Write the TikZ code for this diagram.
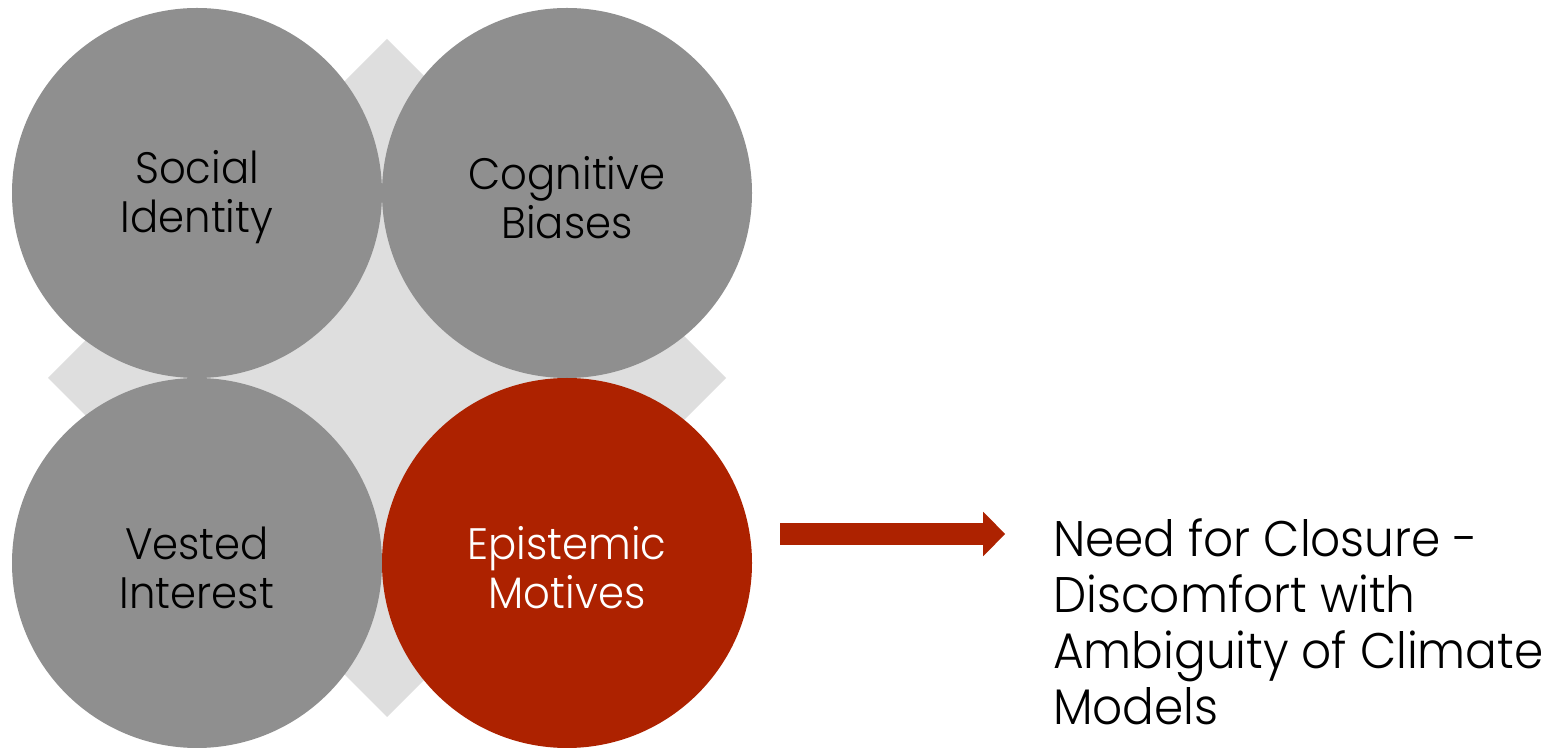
\documentclass[tikz,border=0pt]{standalone}
\usepackage{fontspec}
\setmainfont{Poppins Light}[FakeStretch=0.95]
\newfontfamily\outcomefont{Poppins Light}[FakeStretch=0.94]
\usepackage{tikz}
\usetikzlibrary{positioning}
\usetikzlibrary{arrows.meta}

\definecolor{motivegrey}{HTML}{8F8F8F}
\definecolor{backgrey}{HTML}{DEDEDE}
\definecolor{motivered}{HTML}{AD2200}

\begin{document}
\begin{tikzpicture}[x=1pt,y=1pt,
  motive/.style={circle,minimum size=370pt,inner sep=0pt,fill=motivegrey,
    align=center,font=\fontsize{44}{49}\selectfont},
  chosen/.style={motive,fill=motivered,text=white}]
\useasboundingbox (0,0) rectangle (1557,749);
% background diamond
\fill[backgrey] (387,710) -- (726,371) -- (387,32) -- (48,371) -- cycle;
% the four motives
\node[motive] (si) at (197,556) {\rule{0pt}{42pt}Social\\Identity};
\node[motive] (cb) at (567,556) {\rule{0pt}{42pt}Cognitive\\Biases};
\node[motive] (vi) at (197,186) {\rule{0pt}{42pt}Vested\\Interest};
\node[chosen] (ep) at (567,186) {\rule{0pt}{42pt}Epistemic\\Motives};
% outcome
\coordinate (a0) at ([shift={(28,29)}]ep.east);
\coordinate[right=225pt of a0] (a1);
\node[anchor=base west,align=left,inner sep=0pt,
  font=\outcomefont\fontsize{50}{56}\selectfont] (need) at (1053,24)
  {Need for Closure -\\Discomfort with\\Ambiguity of Climate\\Models};
\draw[motivered,line width=22pt,-{Triangle[length=22pt,width=43pt]}] (a0) -- (a1);
\end{tikzpicture}
\end{document}
